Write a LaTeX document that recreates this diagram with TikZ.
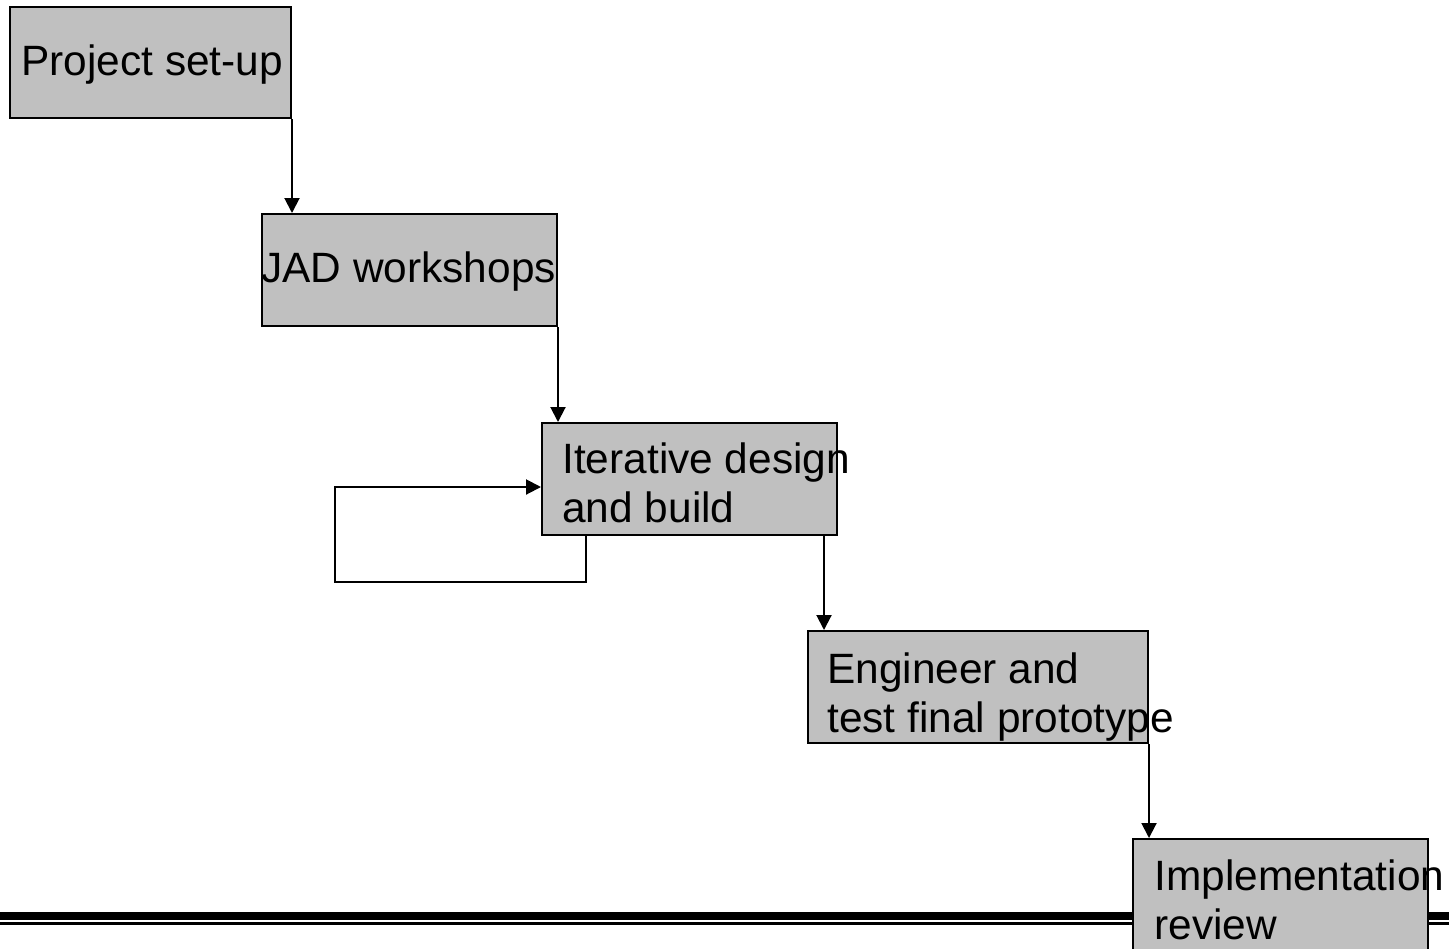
\documentclass[tikz,border=0pt]{standalone}
\usepackage{fontspec}
\setmainfont{Liberation Sans}
\usetikzlibrary{arrows.meta,calc}
\definecolor{boxgray}{RGB}{192,192,192}

\begin{document}
\begin{tikzpicture}[x=0.5pt, y=-0.5pt,
    phase/.style={draw, line width=1pt, fill=boxgray, inner sep=0pt, minimum width=147.5pt, minimum height=56pt},
    lbl/.style={inner sep=0pt, anchor=base west, align=left, font=\fontsize{21.2}{24.5}\selectfont},
    arr/.style={line width=1pt, -{Triangle[width=7.5pt, length=7.5pt]}}]
    \useasboundingbox (0,0) rectangle (1449,948);

    % double rule along the bottom
    \draw[line width=4pt] (0,916) -- (1449,916);
    \draw[line width=1.25pt] (0,923.5) -- (1449,923.5);

    \node[phase, minimum width=140.5pt, minimum height=55.5pt] (setup) at (150.5,62.5) {};
    \node[phase] (jad) at (409.5,270) {};
    \node[phase] (iter) at (689.5,479) {};
    \node[phase, minimum width=170pt] (eng) at (978,687) {};
    \node[phase] (impl) at (1280.5,895) {};

    % labels sit on the baseline of their last line
    \node[lbl] (setuptxt) at ($(setup.north west)+(12,69)$) {Project set-up};
    \node[lbl] (jadtxt) at ($(jad.north west)+(0,69)$) {JAD workshops};
    \node[lbl] (itertxt) at ($(iter.north west)+(21,100)$) {Iterative design\\and build};
    \node[lbl] (engtxt) at ($(eng.north west)+(20,102)$) {Engineer and\\test final prototype};
    \node[lbl] (impltxt) at ($(impl.north west)+(22,101)$) {Implementation\\review};

    \draw[arr] (setup.south east) -- (setup.south east |- jad.north);
    \draw[arr] (jad.south east) -- (jad.south east |- iter.north);
    \coordinate (engdrop) at ($(iter.south east)+(-14,0)$);
    \draw[arr] (engdrop) -- (engdrop |- eng.north);
    \draw[arr] (eng.south east) -- (eng.south east |- impl.north);

    % rework loop
    \coordinate (loopstart) at ($(iter.south west)+(45,0)$);
    \coordinate (loopcorner) at (335,582);
    \draw[arr] (loopstart) |- (loopcorner) |- ($(iter.west)+(0,8)$);
\end{tikzpicture}
\end{document}
